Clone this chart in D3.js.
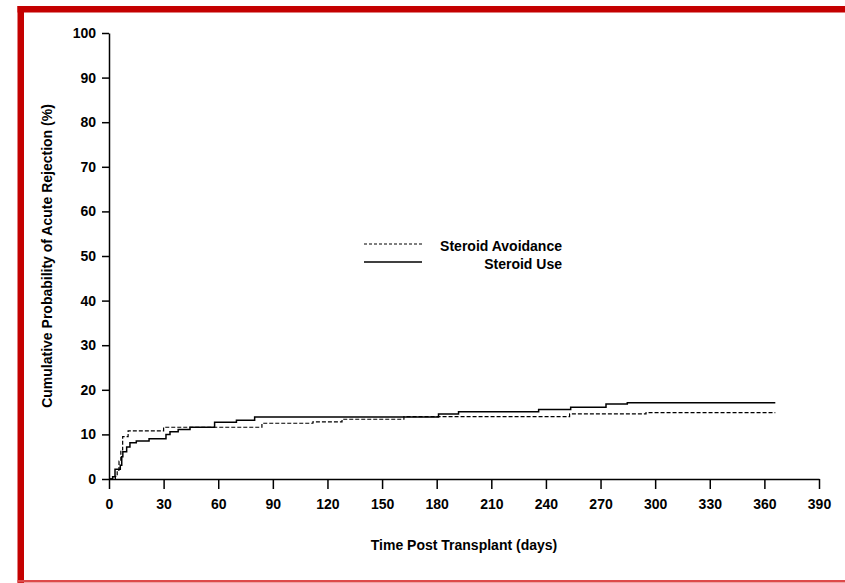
<!DOCTYPE html>
<html>
<head>
<meta charset="utf-8">
<script src="https://cdn.jsdelivr.net/npm/d3@7"></script>
<style>
  html, body { margin: 0; padding: 0; background: #fff; }
  svg { display: block; }
  text { font-family: "Liberation Sans", Arial, sans-serif; font-weight: bold; fill: #000; }
</style>
</head>
<body>
<svg id="chart" width="845" height="583"></svg>
<script>
// ---- Data ----
const xTicks = [0, 30, 60, 90, 120, 150, 180, 210, 240, 270, 300, 330, 360, 390];
const yTicks = [0, 10, 20, 30, 40, 50, 60, 70, 80, 90, 100];

const seriesNames = ["Steroid Avoidance", "Steroid Use"];

const avoidDays = [0, 3.5, 4.5, 5.5, 6.5, 7.5, 10.5, 30, 84, 112, 128, 162, 253, 295, 366];
const avoidPct  = [0, 0.6, 2.0, 4.0, 6.5, 9.5, 10.8, 11.6, 12.5, 12.8, 13.4, 14.0, 14.6, 14.9, 14.9];

const useDays = [0, 2, 3.3, 6.2, 7.0, 7.6, 9.7, 11.5, 15, 22, 31.3, 33.5, 38, 44.5, 58, 70, 80, 181, 192, 236, 253.6, 273, 284.7, 366];
const usePct  = [0, 0.5, 2.2, 3.1, 5.0, 6.1, 7.2, 8.1, 8.5, 9.0, 10.0, 10.6, 11.1, 11.6, 12.7, 13.2, 13.9, 14.6, 15.1, 15.6, 16.1, 16.8, 17.1, 17.1];

const xLabel = "Time Post Transplant (days)";
const yLabel = "Cumulative Probability of Acute Rejection (%)";

// ---- Layout ----
const svg = d3.select("#chart");
const mLeft = 109, mRight = 819, mTop = 33, mBottom = 479;

const x = d3.scaleLinear().domain([0, 390]).range([mLeft, mRight]);
const y = d3.scaleLinear().domain([0, 100]).range([mBottom, mTop]);

// red frame
svg.append("rect").attr("x", 17.5).attr("y", 6).attr("width", 845 - 17.5).attr("height", 6.5).attr("fill", "#c40000");
svg.append("rect").attr("x", 17.5).attr("y", 6).attr("width", 6.5).attr("height", 577).attr("fill", "#c40000");
svg.append("rect").attr("x", 17.5).attr("y", 580).attr("width", 845 - 17.5).attr("height", 2.5).attr("fill", "#dd4a4a");

// axes
const xAxis = svg.append("g")
  .attr("transform", `translate(0,${mBottom})`)
  .call(d3.axisBottom(x).tickValues(xTicks).tickSize(10).tickSizeOuter(0).tickPadding(10));
const yAxis = svg.append("g")
  .attr("transform", `translate(${mLeft},0)`)
  .call(d3.axisLeft(y).tickValues(yTicks).tickSize(7).tickSizeOuter(0).tickPadding(6));

[xAxis, yAxis].forEach(g => {
  g.select(".domain").attr("stroke", "#000").attr("stroke-width", 1.5);
  g.selectAll(".tick line").attr("stroke", "#000").attr("stroke-width", 1.5);
  g.selectAll(".tick text")
    .attr("font-family", "Liberation Sans, Arial, sans-serif")
    .attr("font-weight", "bold")
    .attr("font-size", 14)
    .attr("fill", "#000");
});

// axis titles
svg.append("text")
  .attr("x", (mLeft + mRight) / 2).attr("y", 550)
  .attr("text-anchor", "middle").attr("font-size", 14)
  .text(xLabel);
svg.append("text")
  .attr("transform", `translate(52,${(mTop + mBottom) / 2}) rotate(-90)`)
  .attr("text-anchor", "middle").attr("font-size", 14)
  .text(yLabel);

// curves
const line = d3.line().x(d => x(d[0])).y(d => y(d[1])).curve(d3.curveStepAfter);
const avoid = avoidDays.map((d, i) => [d, avoidPct[i]]);
const use = useDays.map((d, i) => [d, usePct[i]]);

svg.append("path").datum(use)
  .attr("fill", "none").attr("stroke", "#000").attr("stroke-width", 1.5)
  .attr("d", line);
svg.append("path").datum(avoid)
  .attr("fill", "none").attr("stroke", "#000").attr("stroke-width", 1.2)
  .attr("stroke-dasharray", "4,2")
  .attr("d", line);

// legend
const legX1 = 364, legX2 = 422, legTextX = 562;
const legY = [244, 262];
svg.append("line").attr("x1", legX1).attr("x2", legX2).attr("y1", legY[0]).attr("y2", legY[0])
  .attr("stroke", "#000").attr("stroke-width", 1.2).attr("stroke-dasharray", "3,2");
svg.append("line").attr("x1", legX1).attr("x2", legX2).attr("y1", legY[1]).attr("y2", legY[1])
  .attr("stroke", "#000").attr("stroke-width", 1.5);
seriesNames.forEach((n, i) => {
  svg.append("text").attr("x", legTextX).attr("y", legY[i] + 7)
    .attr("text-anchor", "end").attr("font-size", 14).text(n);
});
</script>
</body>
</html>
